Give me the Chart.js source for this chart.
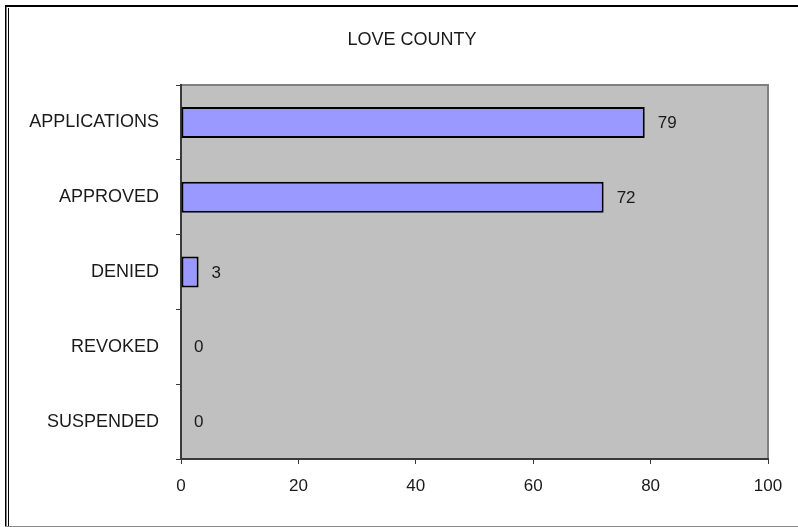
<!DOCTYPE html>
<html>
<head>
<meta charset="utf-8">
<script src="https://cdn.jsdelivr.net/npm/chart.js@4.4.1/dist/chart.umd.min.js"></script>
<style>
  html, body { margin: 0; padding: 0; background: #ffffff; }
  #wrap { width: 798px; height: 527px; position: relative; }
</style>
</head>
<body>
<div id="wrap"><canvas id="chart" width="798" height="527"></canvas></div>
<script>
// Permit activity for Love County
const chartTitle = 'LOVE COUNTY';
const categories = ['APPLICATIONS', 'APPROVED', 'DENIED', 'REVOKED', 'SUSPENDED'];
const counts = [79, 72, 3, 0, 0];
const xTicks = [0, 20, 40, 60, 80, 100];

const FONT = '"Liberation Sans", Arial, sans-serif';
const TEXT = '#1a1a1a';

// Outer frame, gray plot area and the centred title
const framePlugin = {
  id: 'frame',
  beforeDraw(chart) {
    const { ctx, chartArea: a } = chart;
    ctx.save();
    ctx.fillStyle = '#ffffff';
    ctx.fillRect(0, 0, chart.width, chart.height);
    // frame lines
    ctx.fillStyle = '#000000';
    ctx.fillRect(5, 5, chart.width - 5, 2);
    ctx.fillRect(5, 5, 1.5, chart.height - 6);
    ctx.fillRect(8, 8, 1, chart.height - 9);
    ctx.fillStyle = '#8a8a8a';
    ctx.fillRect(5, chart.height - 1, chart.width - 5, 1);
    // plot area
    ctx.fillStyle = '#c0c0c0';
    ctx.fillRect(a.left, a.top, a.right - a.left, a.bottom - a.top);
    ctx.strokeStyle = '#808080';
    ctx.lineWidth = 2;
    ctx.strokeRect(a.left, a.top, a.right - a.left, a.bottom - a.top);
    // title
    ctx.fillStyle = TEXT;
    ctx.font = '18px ' + FONT;
    ctx.textAlign = 'center';
    ctx.textBaseline = 'middle';
    ctx.fillText(chartTitle, 412, 40);
    ctx.restore();
  }
};

// Value labels to the right of each bar end
const valueLabels = {
  id: 'valueLabels',
  afterDatasetsDraw(chart) {
    const { ctx } = chart;
    const meta = chart.getDatasetMeta(0);
    const ds = chart.data.datasets[0];
    ctx.save();
    ctx.fillStyle = TEXT;
    ctx.font = '17px ' + FONT;
    ctx.textAlign = 'left';
    ctx.textBaseline = 'middle';
    meta.data.forEach((bar, i) => {
      ctx.fillText(String(ds.data[i]), bar.x + 13, bar.y + 1);
    });
    ctx.restore();
  }
};

new Chart(document.getElementById('chart'), {
  type: 'bar',
  data: {
    labels: categories,
    datasets: [{
      data: counts,
      backgroundColor: '#9999ff',
      borderColor: '#000000',
      borderWidth: 2,
      borderSkipped: false,
      categoryPercentage: 1,
      barPercentage: 0.414
    }]
  },
  options: {
    indexAxis: 'y',
    responsive: false,
    animation: false,
    layout: { padding: { left: 26, right: 30, top: 85, bottom: 0 } },
    plugins: { legend: { display: false }, tooltip: { enabled: false }, title: { display: false } },
    scales: {
      x: {
        min: 0,
        max: 100,
        afterFit(scale) { scale.height = 68; },
        afterBuildTicks(scale) { scale.ticks = xTicks.map(v => ({ value: v })); },
        border: { display: true, color: '#3a3a3a', width: 2 },
        grid: { drawOnChartArea: false, drawTicks: true, tickLength: 5, color: '#3a3a3a', lineWidth: 1 },
        ticks: { color: TEXT, font: { family: FONT, size: 17 }, padding: 12, maxRotation: 0 }
      },
      y: {
        afterFit(scale) { scale.width = 155; },
        border: { display: true, color: '#3a3a3a', width: 2 },
        grid: { offset: true, drawOnChartArea: false, drawTicks: true, tickLength: 5, color: '#3a3a3a', lineWidth: 1 },
        ticks: { color: TEXT, font: { family: FONT, size: 18 }, padding: 17 }
      }
    }
  },
  plugins: [framePlugin, valueLabels]
});
</script>
</body>
</html>
